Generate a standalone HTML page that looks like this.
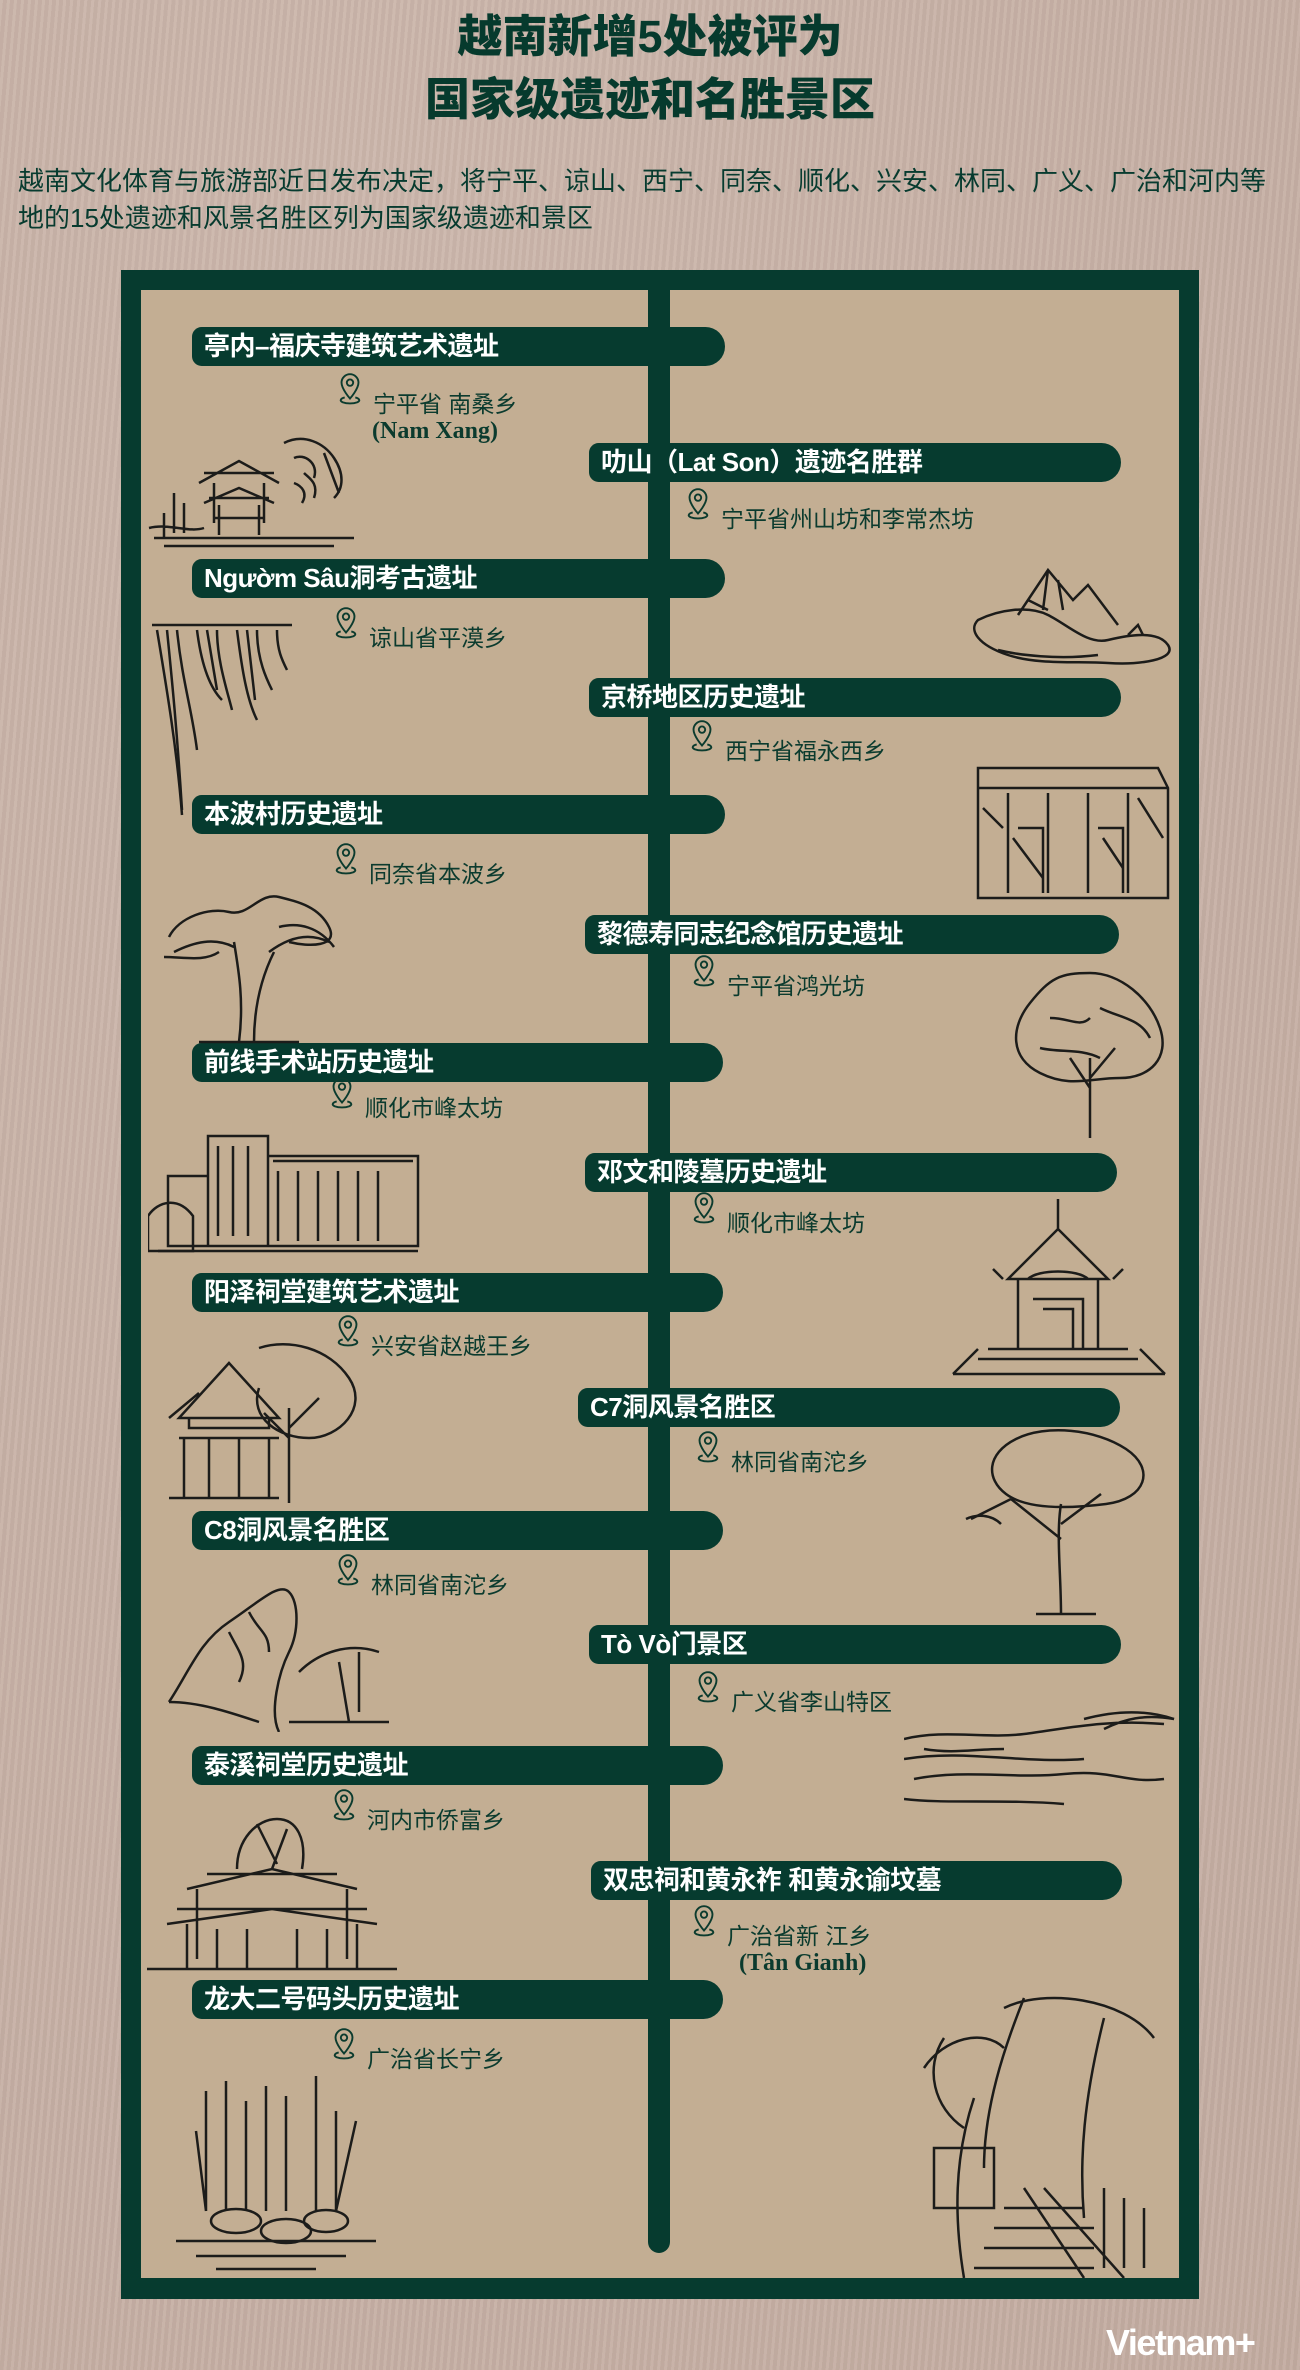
<!DOCTYPE html>
<html><head><meta charset="utf-8">
<style>
*{margin:0;padding:0;box-sizing:border-box}
body{width:1300px;height:2370px;position:relative;overflow:hidden;
background:#c7b0a6;
background-image:repeating-linear-gradient(95deg,rgba(255,255,255,.05) 0 3px,rgba(0,0,0,.03) 3px 7px),radial-gradient(ellipse at 30% 20%,#cdb8ad,#c3aca1);
font-family:"Liberation Sans","Noto Sans CJK SC",sans-serif;color:#073b2f}
.t{position:absolute;left:0;width:1300px;text-align:center;font-weight:900;font-size:45px;color:#063a2d;line-height:1}
.p{position:absolute;left:18px;font-size:26px;line-height:1;color:#073b2f;white-space:nowrap}
.frame{position:absolute;left:121px;top:270px;width:1078px;height:2029px;background:#063b2f}
.inner{position:absolute;left:141px;top:290px;width:1038px;height:1988px;background:#c3ae93}
.vline{position:absolute;left:648px;top:290px;width:22px;height:1963px;background:#063b2f;border-radius:0 0 11px 11px}
.bar{position:absolute;height:39px;background:#063b2f;border-radius:10px 20px 20px 10px;color:#fff;font-weight:700;font-size:26px;line-height:39px;padding-left:12px;white-space:nowrap;letter-spacing:-0.5px}
.loc{position:absolute;font-size:23px;line-height:1;white-space:nowrap;color:#0b3b2e}
.loc svg{position:absolute;left:-36px;top:-22px}
.lat{position:absolute;font-family:"Liberation Serif",serif;font-weight:700;font-size:24px;color:#0b3b2e;white-space:nowrap}
.sk{position:absolute}
.sk *{fill:none;stroke:#1c1c1a;stroke-width:2.5}
.logo{position:absolute;left:1106px;top:2322px;color:#fff;font-weight:700;font-size:36px;letter-spacing:-1.5px}
</style></head><body>
<div class="t" style="top:14px">越南新增5处被评为</div>
<div class="t" style="top:77px">国家级遗迹和名胜景区</div>
<div class="p" style="top:168px">越南文化体育与旅游部近日发布决定，将宁平、谅山、西宁、同奈、顺化、兴安、林同、广义、广治和河内等</div>
<div class="p" style="top:205px">地的15处遗迹和风景名胜区列为国家级遗迹和景区</div>

<div class="frame"></div>
<div class="inner"></div>
<div class="vline"></div>

<svg width="0" height="0" style="position:absolute"><defs>
<symbol id="pin" viewBox="0 0 24 34"><path d="M12 3a8 8 0 0 1 8 8c0 6-8 15-8 15S4 17 4 11a8 8 0 0 1 8-8z" fill="none" stroke="#0b3b2e" stroke-width="1.8"/><circle cx="12" cy="11" r="3" fill="none" stroke="#0b3b2e" stroke-width="1.8"/><path d="M7 25c-4 1-5 3-2 4.5 4 1.5 10 1.5 14 0 3-1.5 2-3.5-2-4.5" fill="none" stroke="#0b3b2e" stroke-width="1.8"/></symbol>
</defs></svg>

<div class="bar" style="left:192px;top:327px;width:533px">亭内–福庆寺建筑艺术遗址</div>
<div class="loc" style="left:373px;top:393px"><svg width="26" height="36"><use href="#pin"/></svg>宁平省 南桑乡</div>
<div class="lat" style="left:372px;top:418px">(Nam Xang)</div>

<div class="bar" style="left:192px;top:559px;width:533px">Ngườm Sâu洞考古遗址</div>
<div class="loc" style="left:369px;top:627px"><svg width="26" height="36"><use href="#pin"/></svg>谅山省平漠乡</div>

<div class="bar" style="left:192px;top:795px;width:533px">本波村历史遗址</div>
<div class="loc" style="left:369px;top:863px"><svg width="26" height="36"><use href="#pin"/></svg>同奈省本波乡</div>

<div class="bar" style="left:192px;top:1043px;width:531px">前线手术站历史遗址</div>
<div class="loc" style="left:365px;top:1097px"><svg width="26" height="36"><use href="#pin"/></svg>顺化市峰太坊</div>

<div class="bar" style="left:192px;top:1273px;width:531px">阳泽祠堂建筑艺术遗址</div>
<div class="loc" style="left:371px;top:1335px"><svg width="26" height="36"><use href="#pin"/></svg>兴安省赵越王乡</div>

<div class="bar" style="left:192px;top:1511px;width:531px">C8洞风景名胜区</div>
<div class="loc" style="left:371px;top:1574px"><svg width="26" height="36"><use href="#pin"/></svg>林同省南沱乡</div>

<div class="bar" style="left:192px;top:1746px;width:531px">泰溪祠堂历史遗址</div>
<div class="loc" style="left:367px;top:1809px"><svg width="26" height="36"><use href="#pin"/></svg>河内市侨富乡</div>

<div class="bar" style="left:192px;top:1980px;width:531px">龙大二号码头历史遗址</div>
<div class="loc" style="left:367px;top:2048px"><svg width="26" height="36"><use href="#pin"/></svg>广治省长宁乡</div>

<div class="bar" style="left:589px;top:443px;width:532px">叻山（Lat Son）遗迹名胜群</div>
<div class="loc" style="left:721px;top:508px"><svg width="26" height="36"><use href="#pin"/></svg>宁平省州山坊和李常杰坊</div>

<div class="bar" style="left:589px;top:678px;width:532px">京桥地区历史遗址</div>
<div class="loc" style="left:725px;top:740px"><svg width="26" height="36"><use href="#pin"/></svg>西宁省福永西乡</div>

<div class="bar" style="left:585px;top:915px;width:534px">黎德寿同志纪念馆历史遗址</div>
<div class="loc" style="left:727px;top:975px"><svg width="26" height="36"><use href="#pin"/></svg>宁平省鸿光坊</div>

<div class="bar" style="left:585px;top:1153px;width:532px">邓文和陵墓历史遗址</div>
<div class="loc" style="left:727px;top:1212px"><svg width="26" height="36"><use href="#pin"/></svg>顺化市峰太坊</div>

<div class="bar" style="left:578px;top:1388px;width:542px">C7洞风景名胜区</div>
<div class="loc" style="left:731px;top:1451px"><svg width="26" height="36"><use href="#pin"/></svg>林同省南沱乡</div>

<div class="bar" style="left:589px;top:1625px;width:532px">Tò Vò门景区</div>
<div class="loc" style="left:731px;top:1691px"><svg width="26" height="36"><use href="#pin"/></svg>广义省李山特区</div>

<div class="bar" style="left:591px;top:1861px;width:531px">双忠祠和黄永祚 和黄永谕坟墓</div>
<div class="loc" style="left:727px;top:1925px"><svg width="26" height="36"><use href="#pin"/></svg>广治省新 江乡</div>
<div class="lat" style="left:739px;top:1950px">(Tân Gianh)</div>

<svg class="sk" style="left:144px;top:423px" width="220" height="130" viewBox="0 0 220 130">
<path d="M60 50h70M55 60l40-22 40 22M70 60v40M120 60v40M65 75h60M60 80l35-15 35 15M75 82v30M115 82v30M70 95h50"/>
<path d="M140 20c20-10 40 0 50 15s10 30 0 40M150 35c10-5 25 5 20 20M180 30l15 40M10 115h200M20 123h170M5 105c20-5 40 5 55 0M30 70v40M40 80v30M20 90v25"/>
<path d="M160 50c5 5 15 10 10 25M150 60c8 3 14 10 8 20" stroke-width="4"/>
</svg>
<svg class="sk" style="left:968px;top:560px" width="212" height="105" viewBox="0 0 212 105">
<path d="M10 60c20-10 50-15 70-5s40 30 60 25 50-10 60 5-30 20-60 18-70 2-100-8S0 70 10 60z"/>
<path d="M50 55l30-45 25 30 15-15 30 40M80 10l-5 40M90 20l5 30M60 40l20 10"/>
<path d="M30 90c20 5 60 10 100 5M160 75l10-10 5 10" stroke-width="1.5"/>
</svg>
<svg class="sk" style="left:147px;top:620px" width="150" height="197" viewBox="0 0 150 197">
<path d="M5 5h140M10 10c10 60 20 120 25 185M30 10c5 50 15 80 20 120M50 10c5 40 15 60 25 70M70 10c0 30 10 60 15 80M90 10c5 40 10 70 20 90M110 10c0 30 10 50 15 60M130 10c0 20 5 30 10 40" stroke-width="3"/>
<path d="M20 10c5 50 10 100 15 180M60 10l10 60M100 10l8 70"/>
</svg>
<svg class="sk" style="left:968px;top:748px" width="212" height="160" viewBox="0 0 212 160">
<path d="M10 20h180l10 20v110H10zM10 40h190M40 45v100M80 45v100M120 45v100M160 45v100M50 80h25v65M130 80h25v65"/>
<path d="M45 90l30 40M135 90l20 30M15 60l20 20M170 50l25 40" stroke-width="4"/>
</svg>
<svg class="sk" style="left:159px;top:877px" width="182" height="167" viewBox="0 0 182 167">
<path d="M80 165c5-40 0-70-5-100M95 165c0-40 10-70 20-90M75 70c-20-10-40-5-60 5M110 75c20-15 40-20 60-10" stroke-width="5"/>
<path d="M10 60c10-20 40-30 60-25s30-20 50-15 40 10 50 30-20 20-40 15M5 80c20 0 40 5 55-5M120 50c20-5 40 0 55 20M40 165h100"/>
</svg>
<svg class="sk" style="left:1010px;top:968px" width="162" height="174" viewBox="0 0 162 174">
<path d="M80 170V90M80 120l-20-30M80 110l25-30" stroke-width="4"/>
<path d="M80 5c30 0 60 25 70 55s-10 50-40 50-50 10-80-5S0 60 20 35 50 5 80 5zM40 50c20 0 30 10 40 0M90 40c20 10 40 10 50 30M30 80c20 5 40 0 60 10"/>
</svg>
<svg class="sk" style="left:148px;top:1126px" width="276" height="130" viewBox="0 0 276 130">
<path d="M60 10h60v110H60zM120 30h150v90H120zM20 50h40v70H20zM130 45v70M150 45v70M170 45v70M190 45v70M210 45v70M230 45v70M70 20v90M85 20v90M100 20v90M10 125h260"/>
<path d="M0 90c10-15 30-20 45 0v35H0zM125 35l140 0" stroke-width="4"/>
</svg>
<svg class="sk" style="left:948px;top:1199px" width="222" height="178" viewBox="0 0 222 178">
<path d="M110 0v30M110 30L60 80h100zM55 80l-10-10M165 80l10-10M70 80v70M150 80v70M85 100h50v50M95 110h30v40M40 150h140M30 160h160M5 175h212M5 175l25-25M217 175l-25-25" stroke-width="3.5"/>
<path d="M80 80c10-10 50-10 60 0"/>
</svg>
<svg class="sk" style="left:159px;top:1338px" width="205" height="167" viewBox="0 0 205 167">
<path d="M70 25L20 80h100zM30 80v10h80V80M20 100h100M25 100v60M110 100v60M50 100v60M80 100v60M10 160h110M40 55l-30 25"/>
<path d="M130 165V70M130 100l-25-25M130 90l30-30M100 10c30-10 70 0 90 30s-10 60-40 60-60-20-50-50" stroke-width="2.5"/>
</svg>
<svg class="sk" style="left:956px;top:1429px" width="194" height="190" viewBox="0 0 194 190">
<path d="M105 185c0-40-5-80 0-110M105 110l-50-40M105 95l40-30M55 70l-40 20" stroke-width="6"/>
<path d="M60 10c30-15 80-10 110 10s20 50-20 55-80 5-100-10S30 25 60 10zM10 90c10-5 25-5 35 5M80 185h60"/>
</svg>
<svg class="sk" style="left:159px;top:1572px" width="242" height="160" viewBox="0 0 242 160">
<path d="M10 130c20-30 30-60 60-80s50-40 60-30 10 40 0 60-20 60-10 80M10 130c30 0 60 10 90 20M70 60c10 20 20 30 10 50M90 40c10 20 20 20 20 40"/>
<path d="M140 100c20-20 50-30 80-20M180 90l10 60M200 80v60M130 150h100" stroke-width="2.5"/>
</svg>
<svg class="sk" style="left:904px;top:1709px" width="272" height="106" viewBox="0 0 272 106">
<path d="M0 30c40-10 80 0 120-5s80-15 140-10M0 50c60-10 120 5 180 0M10 70c50-10 100 0 150-5s60 10 100 5M0 90c40 5 100 0 160 5M200 20c20-10 40-15 70-10" stroke-width="2.5"/>
<path d="M180 10c30-8 60-10 90 0M20 40c30 5 50 0 80 0" stroke-width="1.5"/>
</svg>
<svg class="sk" style="left:147px;top:1814px" width="250" height="160" viewBox="0 0 250 160">
<path d="M60 60h130M40 75l85-20 85 20M50 75v70M200 75v70M30 95h190M20 110l105-15 105 15M40 110v45M210 110v45M0 155h250M70 115v40M100 115v40M150 115v40M180 115v40"/>
<path d="M90 55c0-30 20-50 40-50s30 20 25 50M110 10l20 40M140 15l-15 40" stroke-width="3"/>
</svg>
<svg class="sk" style="left:166px;top:2071px" width="220" height="207" viewBox="0 0 220 207">
<path d="M40 140V20M60 140V10M80 140V30M100 140V15M120 140V25M150 140V5M170 140V40M30 60l10 80M190 50l-20 90"/>
<ellipse cx="70" cy="150" rx="25" ry="12"/><ellipse cx="120" cy="160" rx="25" ry="12"/><ellipse cx="160" cy="150" rx="22" ry="11"/>
<path d="M10 170h200M30 185h150M50 198h100" stroke-width="3"/>
</svg>
<svg class="sk" style="left:904px;top:1988px" width="272" height="290" viewBox="0 0 272 290">
<path d="M60 290c-10-60-10-120 10-180M80 180c0-60 20-120 40-170M180 230c-5-60 0-120 20-200M60 140c-30-20-40-60-20-90" stroke-width="6"/>
<path d="M120 200l60 90M140 200l80 90M100 220h80M90 240h100M80 260h110M70 280h120M200 200v80M220 210v70M240 220v60M30 160h60v60H30z" stroke-width="2.5"/>
<path d="M100 20c40-20 120-10 150 30M20 80c20-30 60-40 80-20" stroke-width="2"/>
</svg>

<div class="logo">Vietnam+</div>
</body></html>
